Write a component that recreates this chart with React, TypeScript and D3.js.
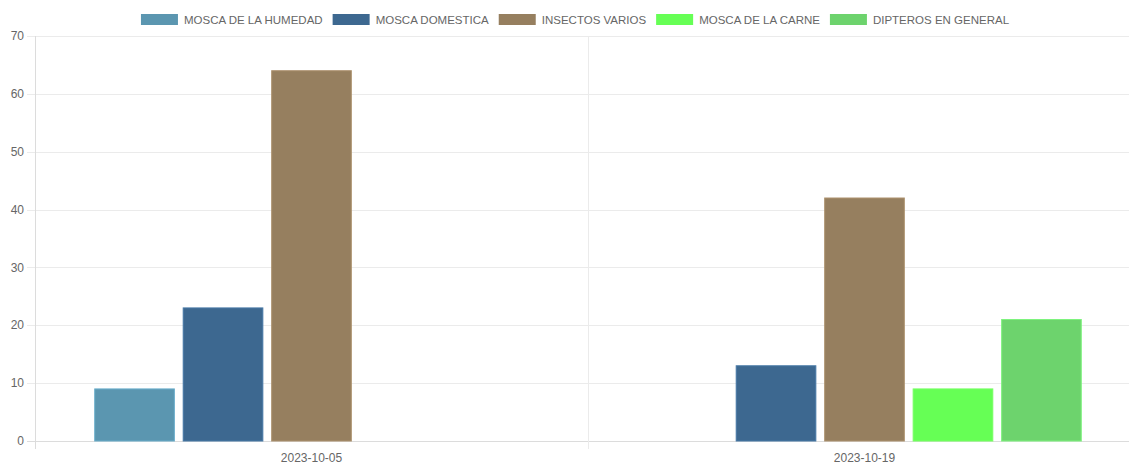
import { useEffect, useRef } from 'react';
import * as d3 from 'd3';

const categories = ['2023-10-05', '2023-10-19'];
const seriesNames = ['MOSCA DE LA HUMEDAD', 'MOSCA DOMESTICA', 'INSECTOS VARIOS', 'MOSCA DE LA CARNE', 'DIPTEROS EN GENERAL'];
const seriesColors = ['#5b96b0', '#3d6890', '#967f5f', '#66ff55', '#6dd36d'];
const humedad = [9, null];
const domestica = [23, 13];
const insectos = [64, 42];
const carne = [null, 9];
const dipteros = [null, 21];
const yTicks = [0, 10, 20, 30, 40, 50, 60, 70];

const seriesValues = [humedad, domestica, insectos, carne, dipteros];

const W = 1129;
const H = 464;

export default function App() {
  const svgRef = useRef<SVGSVGElement>(null);

  useEffect(() => {
    if (!svgRef.current) return;
    const svg = d3.select(svgRef.current);
    svg.selectAll('*').remove();

    const left = 35;
    const right = 1141;
    const top = 36;
    const bottom = 441;
    const font = '"Liberation Sans", Arial, sans-serif';

    const x = d3.scaleBand<string>().domain(categories).range([left, right]);
    const inner = d3.scaleBand<string>()
      .domain(seriesNames)
      .range([0, x.bandwidth() * 0.8])
      .paddingInner(0.1)
      .paddingOuter(0.05);
    const y = d3.scaleLinear().domain([0, 70]).range([bottom, top]);

    // grid horizontal
    svg.append('g')
      .selectAll('line')
      .data(yTicks)
      .enter()
      .append('line')
      .attr('x1', left - 8)
      .attr('x2', right)
      .attr('y1', d => Math.round(y(d)) + 0.5)
      .attr('y2', d => Math.round(y(d)) + 0.5)
      .attr('stroke', d => (d === 0 ? '#dcdcdc' : '#ebebeb'))
      .attr('stroke-width', 1);

    // grid vertical (category boundaries)
    const xEdges = [left, ...categories.slice(1).map(c => x(c) as number)];
    svg.append('g')
      .selectAll('line')
      .data(xEdges)
      .enter()
      .append('line')
      .attr('x1', d => Math.round(d) + 0.5)
      .attr('x2', d => Math.round(d) + 0.5)
      .attr('y1', top)
      .attr('y2', bottom + 8)
      .attr('stroke', (d, i) => (i === 0 ? '#dcdcdc' : '#ebebeb'))
      .attr('stroke-width', 1);

    // y labels
    svg.append('g')
      .selectAll('text')
      .data(yTicks)
      .enter()
      .append('text')
      .attr('x', left - 11)
      .attr('y', d => y(d))
      .attr('dy', '0.35em')
      .attr('text-anchor', 'end')
      .attr('fill', '#666')
      .style('font-family', font)
      .style('font-size', '12px')
      .text(d => d);

    // x labels
    svg.append('g')
      .selectAll('text')
      .data(categories)
      .enter()
      .append('text')
      .attr('x', d => (x(d) as number) + x.bandwidth() / 2)
      .attr('y', bottom + 20.5)
      .attr('text-anchor', 'middle')
      .attr('fill', '#666')
      .style('font-family', font)
      .style('font-size', '12px')
      .text(d => d);

    // bars
    const groups = svg.append('g')
      .selectAll('g')
      .data(categories)
      .enter()
      .append('g')
      .attr('transform', d => `translate(${(x(d) as number) + x.bandwidth() * 0.1},0)`);

    groups.selectAll('rect')
      .data((c, ci) => seriesNames.map((s, si) => ({ s, si, v: seriesValues[si][ci] })).filter(d => d.v != null))
      .enter()
      .append('rect')
      .attr('x', d => (inner(d.s) as number))
      .attr('width', inner.bandwidth())
      .attr('y', d => y(d.v as number))
      .attr('height', d => bottom - y(d.v as number))
      .attr('fill', d => seriesColors[d.si])
      .attr('stroke', d => d3.color(seriesColors[d.si])!.brighter(0.4).formatHex())
      .attr('stroke-width', 1);

    // legend
    const boxW = 37;
    const gap = 6;
    const itemGap = 10;
    const legendFont = '11.5px';
    const tmp = svg.append('text').style('font-family', font).style('font-size', legendFont);
    const widths = seriesNames.map(n => {
      tmp.text(n);
      return (tmp.node() as SVGTextElement).getComputedTextLength();
    });
    tmp.remove();
    const totalW = d3.sum(widths) + seriesNames.length * (boxW + gap) + (seriesNames.length - 1) * itemGap;
    let cx = 575 - totalW / 2;
    const legend = svg.append('g');
    seriesNames.forEach((n, i) => {
      legend.append('rect')
        .attr('x', cx)
        .attr('y', 14)
        .attr('width', boxW)
        .attr('height', 11)
        .attr('fill', seriesColors[i]);
      legend.append('text')
        .attr('x', cx + boxW + gap)
        .attr('y', 19.5)
        .attr('dy', '0.35em')
        .attr('fill', '#666')
        .style('font-family', font)
        .style('font-size', legendFont)
        .text(n);
      cx += boxW + gap + widths[i] + itemGap;
    });
  }, []);

  return (
    <div style={{ position: 'absolute', left: 0, top: 0, width: W, height: H, background: '#fff' }}>
      <svg ref={svgRef} width={W} height={H}></svg>
    </div>
  );
}
